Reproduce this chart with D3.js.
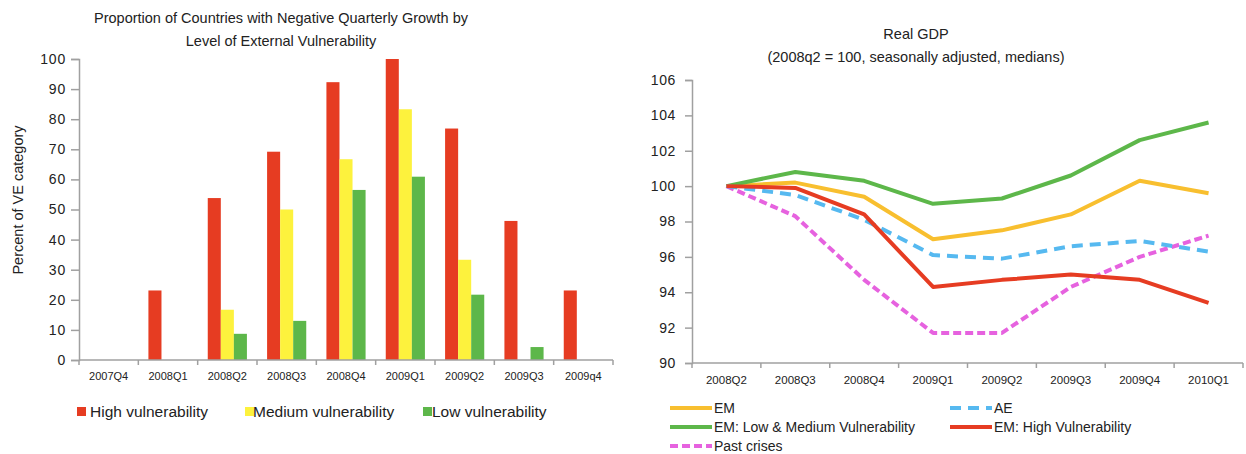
<!DOCTYPE html>
<html><head><meta charset="utf-8">
<script src="https://d3js.org/d3.v7.min.js"></script>
<style>
body{margin:0;background:#fff;}
svg text{font-family:"Liberation Sans",Arial,sans-serif;fill:#222;}
</style></head>
<body><svg id="c" width="1246" height="454"></svg>
<script>
// ---- Left chart data ----
const barCategories = ["2007Q4","2008Q1","2008Q2","2008Q3","2008Q4","2009Q1","2009Q2","2009Q3","2009q4"];
const barSeriesNames = ["High vulnerability","Medium vulnerability","Low vulnerability"];
const highVuln   = [0, 23.1, 53.8, 69.2, 92.3, 100, 76.9, 46.2, 23.1];
const mediumVuln = [0, 0, 16.7, 50, 66.7, 83.3, 33.3, 0, 0];
const lowVuln    = [0, 0, 8.7, 13.0, 56.5, 60.9, 21.7, 4.3, 0];
const barTicks = [0,10,20,30,40,50,60,70,80,90,100];

// ---- Right chart data ----
const lineCategories = ["2008Q2","2008Q3","2008Q4","2009Q1","2009Q2","2009Q3","2009Q4","2010Q1"];
const emLine     = [100, 100.2, 99.4, 97.0, 97.5, 98.4, 100.3, 99.6];
const aeLine     = [100, 99.5, 98.1, 96.1, 95.9, 96.6, 96.9, 96.3];
const emLowMed   = [100, 100.8, 100.3, 99.0, 99.3, 100.6, 102.6, 103.6];
const emHigh     = [100, 99.9, 98.4, 94.3, 94.7, 95.0, 94.7, 93.4];
const pastCrises = [100, 98.3, 94.7, 91.7, 91.7, 94.3, 96.0, 97.2];
const lineTicks = [90,92,94,96,98,100,102,104,106];

const svg = d3.select("#c");
const axisCol = "#a0a0a0";

// ================= LEFT CHART =================
const barColors = ["#e63c22","#fdf23d","#5db74a"];
const barSeries = [highVuln, mediumVuln, lowVuln];
const xL = d3.scaleBand().domain(barCategories).range([79,613]).paddingInner(0.34).paddingOuter(0.17);
const xLi = d3.scaleBand().domain(d3.range(3)).range([0,xL.bandwidth()]);
const yL = d3.scaleLinear().domain([0,100]).range([360,59]);

svg.append("text").attr("x",281).attr("y",23).attr("text-anchor","middle").attr("font-size",14.5)
  .text("Proportion of Countries with Negative Quarterly Growth by");
svg.append("text").attr("x",281).attr("y",46).attr("text-anchor","middle").attr("font-size",14.5)
  .text("Level of External Vulnerability");

const gL = svg.append("g");
barCategories.forEach((c,i)=>{
  barSeries.forEach((s,j)=>{
    if(s[i]>0) gL.append("rect").attr("x",xL(c)+xLi(j)).attr("width",xLi.bandwidth())
      .attr("y",yL(s[i])).attr("height",yL(0)-yL(s[i])).attr("fill",barColors[j]);
  });
});
// y axis
const yAxL = svg.append("g").attr("transform","translate(79,0)")
  .call(d3.axisLeft(yL).tickValues(barTicks).tickSize(8).tickPadding(5));
yAxL.selectAll("text").attr("font-size",14).attr("letter-spacing",0.8).attr("fill","#222");
yAxL.selectAll("line,path").attr("stroke",axisCol).attr("stroke-width",1.5);
// x axis
const stepL = xL.step();
const xAxL = svg.append("g").attr("transform","translate(0,360)");
xAxL.append("line").attr("x1",79).attr("x2",613).attr("stroke",axisCol).attr("stroke-width",1.5);
barCategories.forEach((c,i)=>{
  const bx = xL(c) - xL.paddingOuter()*stepL;
  xAxL.append("line").attr("x1",bx).attr("x2",bx).attr("y1",0).attr("y2",5).attr("stroke",axisCol).attr("stroke-width",1.5);
  xAxL.append("text").attr("x",xL(c)+xL.bandwidth()/2).attr("y",20).attr("text-anchor","middle").attr("font-size",11).text(c);
});
xAxL.append("line").attr("x1",613).attr("x2",613).attr("y1",0).attr("y2",5).attr("stroke",axisCol).attr("stroke-width",1.5);
svg.append("text").attr("transform","translate(23,200) rotate(-90)").attr("text-anchor","middle").attr("font-size",14.5)
  .text("Percent of VE category");
// legend
const legL = [[77,90],[245,253],[423,432]];
barSeriesNames.forEach((n,j)=>{
  svg.append("rect").attr("x",legL[j][0]).attr("y",407).attr("width",9).attr("height",9).attr("fill",barColors[j]);
  svg.append("text").attr("x",legL[j][1]).attr("y",417).attr("font-size",15.5).text(n);
});

// ================= RIGHT CHART =================
const xR = d3.scalePoint().domain(lineCategories).range([692,1243]).padding(0.5);
const yR = d3.scaleLinear().domain([90,106]).range([363,80]);

svg.append("text").attr("x",916).attr("y",39).attr("text-anchor","middle").attr("font-size",14.5).text("Real GDP");
svg.append("text").attr("x",916).attr("y",62).attr("text-anchor","middle").attr("font-size",14.5)
  .text("(2008q2 = 100, seasonally adjusted, medians)");

const yAxR = svg.append("g").attr("transform","translate(692,0)")
  .call(d3.axisLeft(yR).tickValues(lineTicks).tickSize(7).tickPadding(9));
yAxR.selectAll("text").attr("font-size",14).attr("letter-spacing",0.6).attr("fill","#222");
yAxR.selectAll("line,path").attr("stroke",axisCol).attr("stroke-width",1.5);
const stepR = xR.step();
const xAxR = svg.append("g").attr("transform","translate(0,363)");
xAxR.append("line").attr("x1",692).attr("x2",1243).attr("stroke",axisCol).attr("stroke-width",1.5);
lineCategories.forEach((c,i)=>{
  const bx = xR(c) - stepR/2;
  xAxR.append("line").attr("x1",bx).attr("x2",bx).attr("y1",0).attr("y2",5).attr("stroke",axisCol).attr("stroke-width",1.5);
  xAxR.append("text").attr("x",xR(c)).attr("y",21).attr("text-anchor","middle").attr("font-size",11.5).text(c);
});
xAxR.append("line").attr("x1",1243).attr("x2",1243).attr("y1",0).attr("y2",5).attr("stroke",axisCol).attr("stroke-width",1.5);

const lineDefs = [
  {name:"EM", vals:emLine, color:"#f8bf2f", dash:null},
  {name:"AE", vals:aeLine, color:"#56b9f0", dash:"11,7"},
  {name:"EM: Low & Medium Vulnerability", vals:emLowMed, color:"#5db74a", dash:null},
  {name:"EM: High Vulnerability", vals:emHigh, color:"#e63c22", dash:null},
  {name:"Past crises", vals:pastCrises, color:"#e662df", dash:"8,4"}
];
const order = [4,0,2,1,3]; // draw order
const lineGen = d3.line().x((d,i)=>xR(lineCategories[i])).y(d=>yR(d));
order.forEach(k=>{
  const L = lineDefs[k];
  const p = svg.append("path").attr("d",lineGen(L.vals)).attr("fill","none").attr("stroke",L.color)
    .attr("stroke-width",4).attr("stroke-linejoin","round");
  if(L.dash) p.attr("stroke-dasharray",L.dash);
});
// legend
const legR = [[670,408],[950,408],[670,427],[950,427],[670,446]];
lineDefs.forEach((L,k)=>{
  const [lx,ly] = legR[k];
  const ln = svg.append("line").attr("x1",lx).attr("x2",lx+42).attr("y1",ly).attr("y2",ly)
    .attr("stroke",L.color).attr("stroke-width",4);
  if(L.dash) ln.attr("stroke-dasharray",L.dash);
  svg.append("text").attr("x",lx+44).attr("y",ly+5).attr("font-size",14).text(L.name);
});
</script></body></html>
